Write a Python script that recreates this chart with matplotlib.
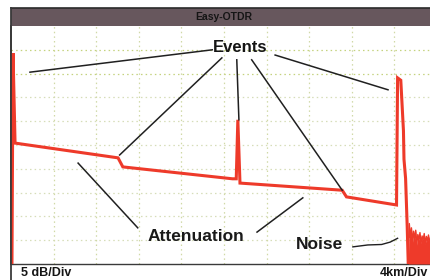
import numpy as np
import matplotlib
matplotlib.use("Agg")
import matplotlib.pyplot as plt
from matplotlib.lines import Line2D
from matplotlib.patches import Rectangle

plt.rcParams['font.family'] = ['Liberation Sans', 'DejaVu Sans']

# trace: distance (km) and level (dB)
dist_km = [0.09, 0.19, 0.38, 10.05, 10.5, 20.8, 21.15, 21.3, 21.5,
           31.1, 31.5, 36.2, 36.3, 36.6, 36.85, 36.9, 37.05, 37.2, 37.3]
level_db = [0.0, 44.3, 25.4, 22.3, 20.4, 17.9, 17.9, 30.3, 17.0,
            15.5, 14.1, 12.4, 39.1, 38.6, 28.0, 22.0, 18.0, 8.0, 0.0]

# noise floor after the fibre end
noise_km = [37.3, 37.4, 37.5, 37.6, 37.7, 37.8, 37.9, 38.0, 38.1, 38.2,
            38.3, 38.4, 38.5, 38.6, 38.7, 38.8, 38.9, 39.0, 39.1, 39.2,
            39.3, 39.4, 39.5, 39.6, 39.7, 39.8, 39.9, 40.0]
noise_db = [0.0, 8.5, 5.5, 7.6, 4.6, 6.9, 5.2, 7.1, 4.0, 6.2,
            5.0, 6.6, 4.3, 5.9, 5.1, 6.4, 4.2, 5.8, 4.8, 6.1,
            4.3, 5.6, 4.9, 6.2, 4.0, 5.5, 4.6, 5.2]

km_per_div = 4
db_per_div = 5
n_div = 10

# annotation texts and where their leader lines go (km, dB)
events_txt = (21.5, 45.4)
events_from = [(18.9, 45.0), (19.8, 43.3), (21.2, 42.9), (22.6, 42.9), (24.8, 43.9)]
events_to = [(1.78, 40.3), (10.2, 22.9), (21.4, 30.3), (31.1, 15.5), (35.4, 36.6)]
atten_txt = (17.4, 5.7)
atten_from = [(11.9, 7.6), (23.1, 6.7)]
atten_to = [(6.3, 21.2), (27.4, 13.9)]
noise_txt = (29.0, 4.0)

W, H = 430, 280
fig = plt.figure(figsize=(W / 100, H / 100), dpi=100)
fig.patch.set_facecolor('white')

ax = fig.add_axes([11 / W, 16 / H, 426 / W, 238 / H])
ax.set_xlim(0, n_div * km_per_div)
ax.set_ylim(0, n_div * db_per_div)
ax.set_xticks([])
ax.set_yticks([])
for s in ['top', 'right']:
    ax.spines[s].set_visible(False)
ax.spines['left'].set_color('#3a3a3a')
ax.spines['left'].set_linewidth(1.3)
ax.spines['bottom'].set_color('#3a3a3a')
ax.spines['bottom'].set_linewidth(1.0)

for k in range(1, n_div):
    ax.axvline(k * km_per_div, color='#d0d9a6', lw=0.9, ls=(0, (1.2, 2.5)), zorder=1)
    c = '#c4d27e' if k >= 8 else '#d6ddb8'
    ax.axhline(k * db_per_div, color=c, lw=0.9, ls=(0, (1.2, 2.5)), zorder=1)

red = '#ee3a2a'
ax.plot(dist_km, level_db, color=red, lw=2.2, solid_joinstyle='miter', zorder=3)
ax.fill_between(noise_km, 0, noise_db, color=red, lw=0, zorder=3)
ax.plot(noise_km, noise_db, color=red, lw=1.0, zorder=3)

for (x0, y0), (x1, y1) in zip(events_from, events_to):
    ax.plot([x0, x1], [y0, y1], color='#202020', lw=1.1, zorder=4)
for (x0, y0), (x1, y1) in zip(atten_from, atten_to):
    ax.plot([x0, x1], [y0, y1], color='#202020', lw=1.1, zorder=4)
ax.plot([32.1, 33.5, 34.8, 35.6, 36.3], [3.6, 4.0, 4.1, 4.6, 5.4],
        color='#202020', lw=1.0, zorder=4)

ax.text(*events_txt, 'Events', ha='center', va='center', fontsize=12,
        fontweight='bold', color='#151515', zorder=5)
ax.text(*atten_txt, 'Attenuation', ha='center', va='center', fontsize=12.5,
        fontweight='bold', color='#1a1a1a', zorder=5)
ax.text(*noise_txt, 'Noise', ha='center', va='center', fontsize=12.5,
        fontweight='bold', color='#1a1a1a', zorder=5)

# title bar of the instrument screen
fig.patches.append(Rectangle((11 / W, 1 - 26 / H), 1, 18 / H, transform=fig.transFigure,
                             facecolor='#67575d', edgecolor='none', zorder=0))
fig.lines.append(Line2D([11 / W, 1], [1 - 8 / H] * 2, transform=fig.transFigure,
                        color='#2a2a2a', lw=1.2))
fig.lines.append(Line2D([11 / W] * 2, [0, 1 - 8 / H], transform=fig.transFigure,
                        color='#3a3a3a', lw=1.3))
fig.text(224 / W, 1 - 17.5 / H, 'Easy-OTDR', ha='center', va='center',
         fontsize=7.5, fontweight='bold', color='#151515')

fig.text(21 / W, 7.5 / H, '%d dB/Div' % db_per_div, ha='left', va='center',
         fontsize=9, fontweight='bold', color='#151515')
fig.text(428 / W, 7.5 / H, '%dkm/Div' % km_per_div, ha='right', va='center',
         fontsize=9, fontweight='bold', color='#151515')

fig.savefig('out.png', dpi=100)
